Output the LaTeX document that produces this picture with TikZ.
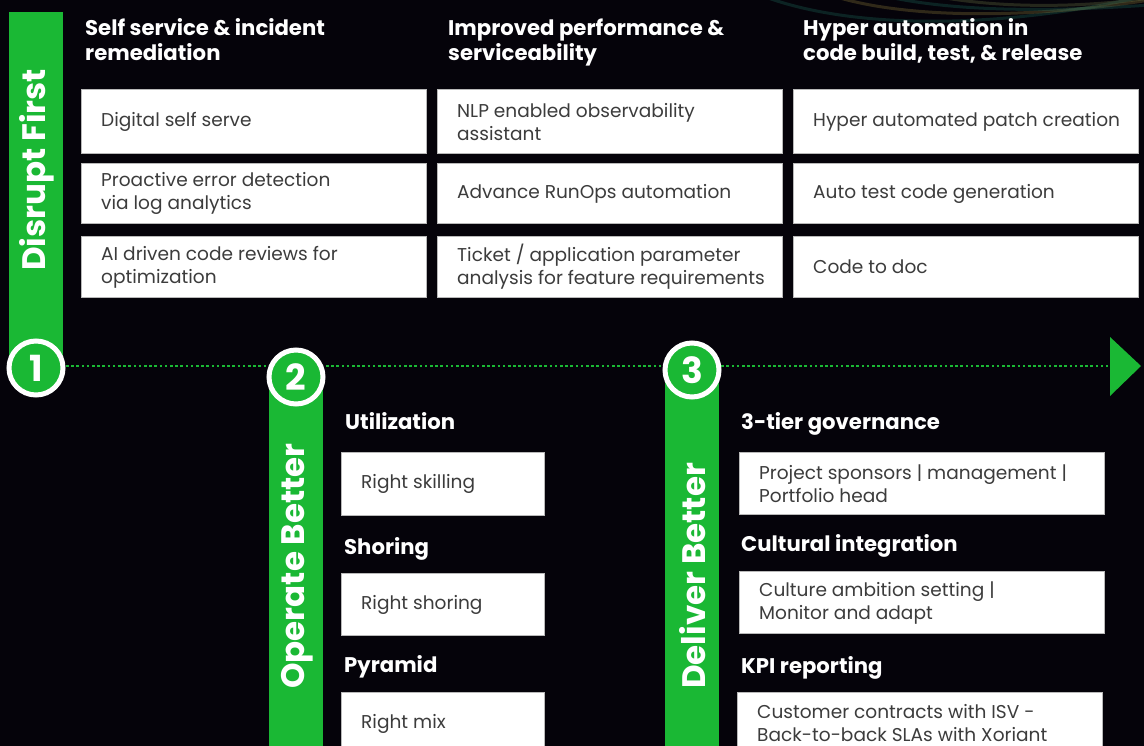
\documentclass[tikz,border=0pt]{standalone}
\usepackage{fontspec}
\setmainfont{Poppins}
\usetikzlibrary{calc}
\definecolor{bg}{RGB}{5,3,10}
\definecolor{grn}{RGB}{26,184,52}
\definecolor{boxtxt}{RGB}{60,60,60}
\definecolor{boxline}{RGB}{185,185,185}
\definecolor{swteal}{RGB}{30,110,95}
\definecolor{swgold}{RGB}{150,130,60}
\tikzset{
  boxshape/.style={draw=boxline, line width=1.3pt, fill=white, anchor=north west, inner sep=0pt},
  boxtext/.style={anchor=west, align=left, inner sep=0pt, text=boxtxt,
    font=\fontsize{18.55}{23}\selectfont},
  headnode/.style={anchor=base west, text=white, align=left, inner sep=0pt,
    font=\fontsize{21.2}{25.5}\selectfont\bfseries},
  barnode/.style={fill=grn, draw=none, anchor=north west, inner sep=0pt, minimum width=54pt},
  barlabel/.style={rotate=90, anchor=west, text=white, inner sep=0pt,
    font=\fontsize{32.5}{32.5}\selectfont\bfseries},
  stepcircle/.style={circle, fill=grn, draw=white, line width=5pt, minimum size=54pt,
    inner sep=0pt, text=white, font=\fontsize{36}{36}\selectfont\bfseries},
  timeline/.style={grn, line width=2.6pt, dash pattern=on 2.6pt off 2.6pt}
}
% #1 name, #2 x, #3 y, #4 width, #5 height, #6 text
\newcommand{\itembox}[6]{%
  \node[boxshape, minimum width=#4pt, minimum height=#5pt] (#1) at (#2,#3) {};
  \node[boxtext] (#1t) at ([xshift=20pt]#1.west) {#6};
}
\begin{document}
\begin{tikzpicture}[x=1pt,y=-1pt]
\useasboundingbox (0,0) rectangle (1144,746);
\clip (0,0) rectangle (1144,746);
\fill[bg] (0,0) rectangle (1144,746);
% faint swirl in the top right
\begin{scope}[line width=3pt, opacity=0.3]
  \draw[swteal] (760,-5) .. controls (850,30) and (1000,30) .. (1150,-5);
  \draw[swgold] (830,-5) .. controls (900,18) and (1020,20) .. (1150,0);
  \draw[swteal] (880,-5) .. controls (950,12) and (1050,12) .. (1150,5);
  \draw[swgold!70!swteal] (940,-3) .. controls (1000,8) and (1080,8) .. (1150,-2);
\end{scope}

% timeline
\coordinate (tlstart) at (66,366);
\coordinate (tlend) at (1108,366);
\draw[timeline] (tlstart) -- (tlend);
\fill[grn] (1110,337) -- (1141,366) -- (1110,396) -- cycle;

% bars
\node[barnode, minimum height=360pt] (bar1) at (9,12) {};
\node[barnode, minimum height=390pt] (bar2) at (269,376) {};
\node[barnode, minimum height=390pt] (bar3) at (665,370) {};
\node[barlabel] (lab1) at (37,271) {Disrupt First};
\node[barlabel] (lab2) at (297,689) {Operate Better};
\node[barlabel] (lab3) at (693,689) {Deliver Better};

% circles
\node[stepcircle] (c1) at (36,368) {1};
\node[stepcircle] (c2) at (296,377) {2};
\node[stepcircle] (c3) at (692,370) {3};

% top headings (anchor = baseline of the last line)
\node[headnode] (h1) at (85,61) {Self service \& incident\\remediation};
\node[headnode] (h2) at (448,61) {Improved performance \&\\serviceability};
\node[headnode] (h3) at (803,61) {Hyper automation in\\code build, test, \& release};

% top boxes
\itembox{b11}{81}{89}{345}{64}{Digital self serve}
\itembox{b12}{81}{163}{345}{60}{Proactive error detection\\via log analytics}
\itembox{b13}{81}{236}{345}{61}{AI driven code reviews for\\optimization}
\itembox{b21}{437}{89}{345}{64}{NLP enabled observability\\assistant}
\itembox{b22}{437}{163}{345}{60}{Advance RunOps automation}
\itembox{b23}{437}{236}{345}{61}{Ticket / application parameter\\analysis for feature requirements}
\itembox{b31}{793}{89}{345}{64}{Hyper automated patch creation}
\itembox{b32}{793}{163}{345}{60}{Auto test code generation}
\itembox{b33}{793}{236}{345}{61}{Code to doc}

% operate better
\node[headnode] (o1) at (345,429) {Utilization};
\itembox{ob1}{341}{452}{203}{63}{Right skilling}
\node[headnode] (o2) at (344,554) {Shoring};
\itembox{ob2}{341}{573}{203}{62}{Right shoring}
\node[headnode] (o3) at (344,672) {Pyramid};
\itembox{ob3}{341}{692}{203}{62}{Right mix}

% deliver better
\node[headnode] (d1) at (741,429) {3-tier governance};
\itembox{db1}{739}{452}{365}{62}{Project sponsors | management |\\Portfolio head}
\node[headnode] (d2) at (741,551) {Cultural integration};
\itembox{db2}{739}{571}{365}{62}{Culture ambition setting |\\Monitor and adapt}
\node[headnode] (d3) at (741,673) {KPI reporting};
\itembox{db3}{737}{692}{365}{61}{Customer contracts with ISV -\\Back-to-back SLAs with Xoriant}
\end{tikzpicture}
\end{document}
